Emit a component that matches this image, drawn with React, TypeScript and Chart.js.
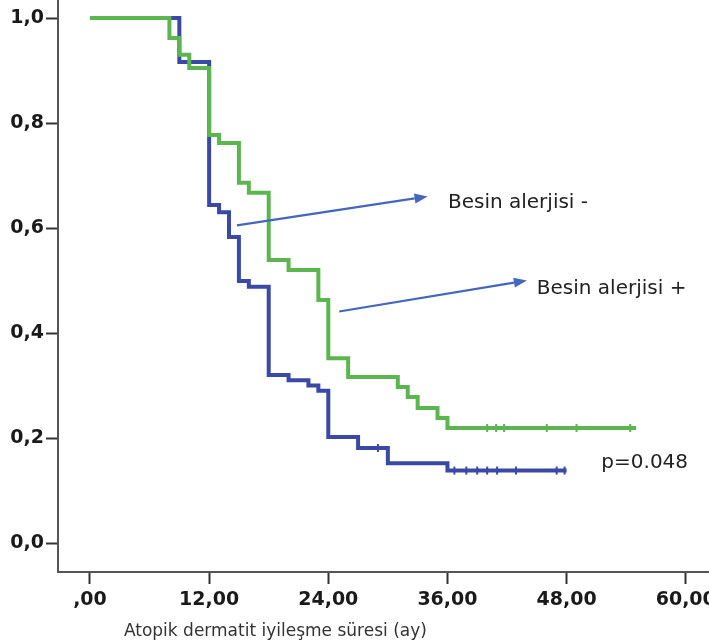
import React, { useEffect, useRef } from "react";
import { Chart, registerables } from "chart.js";

Chart.register(...registerables);

// Besin alerjisi - (blue)
const blueTimes = [0, 9, 12, 13, 14, 15, 16, 18, 20, 22, 23, 24, 27, 30, 36, 48];
const blueSurv = [1, 0.916, 0.644, 0.63, 0.583, 0.499, 0.488, 0.32, 0.31, 0.3, 0.29, 0.202, 0.181, 0.152, 0.138, 0.138];
const blueCensored = [29, 36.7, 37.9, 39.0, 40.0, 41.0, 42.9, 47.0, 47.8];

// Besin alerjisi + (green)
const greenTimes = [0, 8, 9, 10, 12, 13, 15, 16, 18, 20, 23, 24, 26, 31, 32, 33, 35, 36, 55];
const greenSurv = [1, 0.962, 0.93, 0.905, 0.777, 0.762, 0.686, 0.667, 0.539, 0.52, 0.463, 0.352, 0.316, 0.297, 0.278, 0.257, 0.238, 0.219, 0.219];
const greenCensored = [40.0, 40.9, 41.7, 46.0, 49.0, 54.4];

const xTicks = [0, 12, 24, 36, 48, 60];
const yTicks = [0, 0.2, 0.4, 0.6, 0.8, 1.0];

const xTitle = "Atopik dermatit iyileşme süresi (ay)";

// annotations (data units)
const arrowFromX = [14.8, 25.1];
const arrowFromY = [0.605, 0.441];
const arrowToX = [34.0, 44.0];
const arrowToY = [0.66, 0.5];
const labelTexts = ["Besin alerjisi -", "Besin alerjisi +", "p=0.048"];
const labelX = [36.05, 45.0, 51.5];
const labelY = [0.648, 0.484, 0.152];

const BLUE = "#3a49a6";
const GREEN = "#5cb64f";
const ARROW = "#4467bd";

function survAt(times: number[], surv: number[], t: number) {
  let s = surv[0];
  for (let i = 0; i < times.length; i++) {
    if (times[i] <= t) s = surv[i];
  }
  return s;
}

const annotPlugin = {
  id: "annots",
  afterDatasetsDraw(chart: any) {
    const { ctx } = chart;
    const xs = chart.scales.x;
    const ys = chart.scales.y;
    ctx.save();
    for (let i = 0; i < arrowFromX.length; i++) {
      const x1 = xs.getPixelForValue(arrowFromX[i]);
      const y1 = ys.getPixelForValue(arrowFromY[i]);
      const x2 = xs.getPixelForValue(arrowToX[i]);
      const y2 = ys.getPixelForValue(arrowToY[i]);
      const ang = Math.atan2(y2 - y1, x2 - x1);
      const headLen = 13;
      const headW = 5;
      const bx = x2 - headLen * Math.cos(ang);
      const by = y2 - headLen * Math.sin(ang);
      ctx.strokeStyle = ARROW;
      ctx.lineWidth = 2.2;
      ctx.beginPath();
      ctx.moveTo(x1, y1);
      ctx.lineTo(bx, by);
      ctx.stroke();
      ctx.fillStyle = ARROW;
      ctx.beginPath();
      ctx.moveTo(x2, y2);
      ctx.lineTo(bx + headW * Math.sin(ang), by - headW * Math.cos(ang));
      ctx.lineTo(bx - headW * Math.sin(ang), by + headW * Math.cos(ang));
      ctx.closePath();
      ctx.fill();
    }
    ctx.fillStyle = "#222";
    ctx.font = '20px "DejaVu Sans"';
    ctx.textAlign = "left";
    ctx.textBaseline = "middle";
    for (let i = 0; i < labelTexts.length; i++) {
      ctx.fillText(labelTexts[i], xs.getPixelForValue(labelX[i]), ys.getPixelForValue(labelY[i]));
    }
    // axis title
    ctx.font = '17px "DejaVu Sans"';
    ctx.fillStyle = "#333";
    ctx.fillText(xTitle, xs.getPixelForValue(3.42), chart.height - 12);
    ctx.restore();
  },
};

function noPad(axis: any) {
  axis.paddingTop = 0;
  axis.paddingBottom = 0;
  axis.paddingLeft = 0;
  axis.paddingRight = 0;
}

export default function App() {
  const ref = useRef<HTMLCanvasElement>(null);
  useEffect(() => {
    document.body.style.margin = "0";
    const blueData = blueTimes.map((t, i) => ({ x: t, y: blueSurv[i] }));
    const greenData = greenTimes.map((t, i) => ({ x: t, y: greenSurv[i] }));
    const blueCens = blueCensored.map((t) => ({ x: t, y: survAt(blueTimes, blueSurv, t) }));
    const greenCens = greenCensored.map((t) => ({ x: t, y: survAt(greenTimes, greenSurv, t) }));
    const chart = new Chart(ref.current!, {
      type: "line",
      data: {
        datasets: [
          {
            label: "Besin alerjisi +",
            data: greenData,
            borderColor: GREEN,
            borderWidth: 4,
            stepped: "before",
            pointRadius: 0,
            fill: false,
            order: 1,
          },
          {
            label: "Besin alerjisi -",
            data: blueData,
            borderColor: BLUE,
            borderWidth: 4,
            stepped: "before",
            pointRadius: 0,
            fill: false,
            order: 2,
          },
          {
            label: "cens+",
            data: greenCens,
            showLine: false,
            pointStyle: "line",
            rotation: 90,
            pointRadius: 4,
            pointBorderWidth: 2,
            borderColor: GREEN,
            order: 0,
          },
          {
            label: "cens-",
            data: blueCens,
            showLine: false,
            pointStyle: "line",
            rotation: 90,
            pointRadius: 4,
            pointBorderWidth: 2,
            borderColor: BLUE,
            order: 0,
          },
        ],
      },
      options: {
        responsive: false,
        animation: false,
        layout: { padding: 0, autoPadding: false },
        plugins: { legend: { display: false }, tooltip: { enabled: false }, title: { display: false } },
        scales: {
          x: {
            type: "linear",
            min: -3.22,
            max: 62.34,
            afterBuildTicks: (axis: any) => {
              axis.ticks = xTicks.map((v) => ({ value: v }));
            },
            afterFit: (axis: any) => {
              axis.height = 72;
              noPad(axis);
            },
            border: { color: "#555", width: 2 },
            grid: { drawOnChartArea: false, drawTicks: true, tickLength: 12, tickColor: "#333", tickWidth: 2 },
            ticks: {
              padding: 5,
              color: "#1a1a1a",
              font: { family: "DejaVu Sans", size: 19, weight: "bold" },
              maxRotation: 0,
              autoSkip: false,
              callback: (v: any) => (Number(v) === 0 ? ",00" : Number(v).toFixed(2).replace(".", ",")),
            },
          },
          y: {
            type: "linear",
            min: -0.0552,
            max: 1.0343,
            afterBuildTicks: (axis: any) => {
              axis.ticks = yTicks.map((v) => ({ value: v }));
            },
            afterFit: (axis: any) => {
              axis.width = 58;
              noPad(axis);
            },
            border: { color: "#555", width: 2 },
            grid: { drawOnChartArea: false, drawTicks: true, tickLength: 12, tickColor: "#333", tickWidth: 2 },
            ticks: {
              padding: 2,
              color: "#1a1a1a",
              font: { family: "DejaVu Sans", size: 19, weight: "bold" },
              autoSkip: false,
              callback: (v: any) => Number(v).toFixed(1).replace(".", ","),
            },
          },
        },
      },
      plugins: [annotPlugin],
    });
    return () => chart.destroy();
  }, []);
  return (
    <canvas
      ref={ref}
      width={709}
      height={644}
      style={{ position: "absolute", left: 0, top: 0, display: "block" }}
    />
  );
}
